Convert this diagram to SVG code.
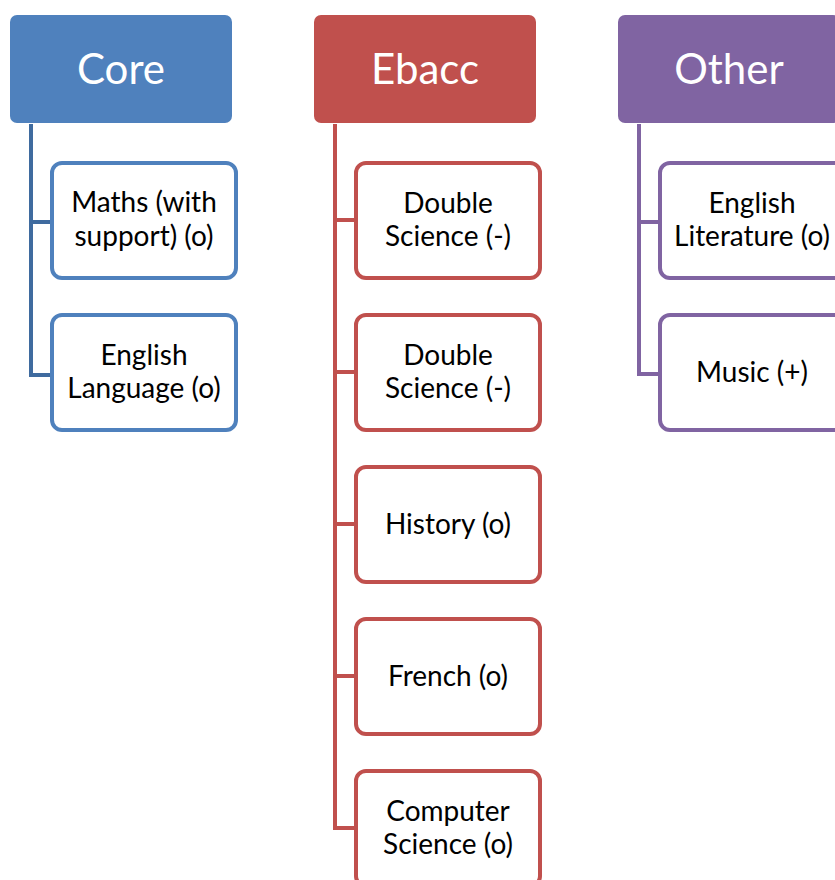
<svg xmlns="http://www.w3.org/2000/svg" width="835" height="880" viewBox="0 0 835 880">
  <style>
    .hdr text { font-family: Lato, "Open Sans", sans-serif; font-size: 42px; fill: #ffffff; text-anchor: middle; }
    .item rect { fill: #ffffff; stroke-width: 4; }
    .item text { font-family: Lato, "Open Sans", sans-serif; font-size: 28px; fill: #000000; text-anchor: middle; }
    .blue rect { stroke: #4F81BD; }
    .red rect { stroke: #C0504D; }
    .purple rect { stroke: #8064A2; }
    .links path { fill: none; stroke-width: 4; }
  </style>
  <rect width="835" height="880" fill="#ffffff"/>

  <!-- connectors -->
  <g id="connectors" class="links">
    <path d="M31 124 V375 H52 M31 222 H52" stroke="#3F6B9F"/>
    <path d="M335 124 V828 H356 M335 220 H356 M335 372 H356 M335 524 H356 M335 676 H356" stroke="#C0504D"/>
    <path d="M639 124 V374 H660 M639 222 H660" stroke="#8064A2"/>
  </g>

  <!-- column headers -->
  <g id="core" class="hdr">
    <rect x="10" y="15" width="222" height="108" rx="7" fill="#4F81BD"/>
    <text x="121" y="84">Core</text>
  </g>
  <g id="ebacc" class="hdr">
    <rect x="314" y="15" width="222" height="108" rx="7" fill="#C0504D"/>
    <text x="425" y="84">Ebacc</text>
  </g>
  <g id="other" class="hdr">
    <rect x="618" y="15" width="222" height="108" rx="7" fill="#8064A2"/>
    <text x="729" y="84">Other</text>
  </g>

  <!-- Core items -->
  <g id="maths" class="item blue">
    <rect x="52" y="163" width="184" height="115" rx="10"/>
    <text x="144" y="212">Maths (with</text>
    <text x="144" y="246">support) (o)</text>
  </g>
  <g id="english-language" class="item blue">
    <rect x="52" y="315" width="184" height="115" rx="10"/>
    <text x="144" y="365">English</text>
    <text x="144" y="398">Language (o)</text>
  </g>

  <!-- Ebacc items -->
  <g id="double-science-1" class="item red">
    <rect x="356" y="163" width="184" height="115" rx="10"/>
    <text x="448" y="213">Double</text>
    <text x="448" y="246">Science (-)</text>
  </g>
  <g id="double-science-2" class="item red">
    <rect x="356" y="315" width="184" height="115" rx="10"/>
    <text x="448" y="365">Double</text>
    <text x="448" y="398">Science (-)</text>
  </g>
  <g id="history" class="item red">
    <rect x="356" y="467" width="184" height="115" rx="10"/>
    <text x="448" y="534">History (o)</text>
  </g>
  <g id="french" class="item red">
    <rect x="356" y="619" width="184" height="115" rx="10"/>
    <text x="448" y="686">French (o)</text>
  </g>
  <g id="computer-science" class="item red">
    <rect x="356" y="771" width="184" height="115" rx="10"/>
    <text x="448" y="821">Computer</text>
    <text x="448" y="854">Science (o)</text>
  </g>

  <!-- Other items -->
  <g id="english-literature" class="item purple">
    <rect x="660" y="163" width="184" height="115" rx="10"/>
    <text x="752" y="213">English</text>
    <text x="752" y="246">Literature (o)</text>
  </g>
  <g id="music" class="item purple">
    <rect x="660" y="315" width="184" height="115" rx="10"/>
    <text x="752" y="382">Music (+)</text>
  </g>
</svg>
